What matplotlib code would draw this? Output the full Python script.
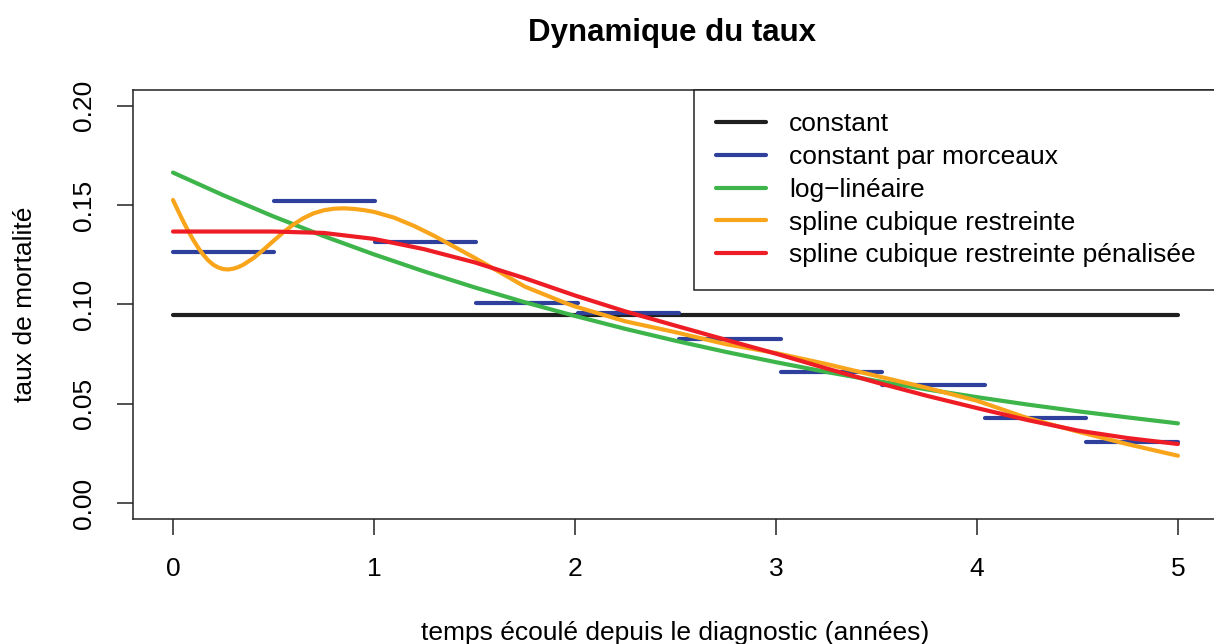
import matplotlib
matplotlib.use("Agg")
import matplotlib.pyplot as plt

plt.rcParams['font.family'] = ['Liberation Sans', 'DejaVu Sans']

# --- DATA ---
constant_rate = 0.0947

piece_breaks = [0, 0.5, 1.005, 1.51, 2.015, 2.52, 3.025, 3.53, 4.04, 4.545, 5.0]
piece_rates = [0.1264, 0.1523, 0.1315, 0.1009, 0.0956, 0.0826, 0.0661, 0.0594, 0.0427, 0.0306]

t_grid = [0, 0.25, 0.5, 0.75, 1.0, 1.25, 1.5, 1.75, 2.0, 2.25, 2.5,
          2.75, 3.0, 3.25, 3.5, 3.75, 4.0, 4.25, 4.5, 4.75, 5.0]
loglin_rates = [0.1664, 0.1550, 0.1443, 0.1344, 0.1252, 0.1166, 0.1086, 0.1011,
                0.0942, 0.0877, 0.0817, 0.0761, 0.0709, 0.0660, 0.0615, 0.0572,
                0.0533, 0.0496, 0.0462, 0.0431, 0.0401]
pen_rates = [0.1367, 0.1367, 0.1367, 0.1360, 0.1330, 0.1278, 0.1212, 0.1132,
             0.1045, 0.0965, 0.0893, 0.0822, 0.0752, 0.0678, 0.0607, 0.0540,
             0.0478, 0.0418, 0.0365, 0.0327, 0.0297]

t_spline = [0, 0.025, 0.05, 0.075, 0.1, 0.125, 0.15, 0.175, 0.2, 0.225, 0.25,
            0.275, 0.3, 0.325, 0.35, 0.4, 0.45, 0.5, 0.55, 0.6, 0.65, 0.7, 0.75,
            0.8, 0.85, 0.9, 0.95, 1.0, 1.1, 1.2, 1.3, 1.4, 1.5, 1.63, 1.75, 1.95,
            2.0, 2.25, 2.5, 2.75, 3.0, 3.25, 3.5, 3.75, 4.0, 4.25, 4.5, 4.75, 5.0]
spline_rates = [0.1526, 0.1472, 0.1420, 0.1371, 0.1326, 0.1286, 0.1251, 0.1222,
                0.1200, 0.1186, 0.1178, 0.1176, 0.1180, 0.1188, 0.1200, 0.1233,
                0.1275, 0.1320, 0.1364, 0.1403, 0.1435, 0.1459, 0.1474, 0.1482,
                0.1484, 0.1481, 0.1475, 0.1466, 0.1437, 0.1395, 0.1345, 0.1290,
                0.1235, 0.1160, 0.1090, 0.1008, 0.0990, 0.0915, 0.0860, 0.0800,
                0.0755, 0.0700, 0.0640, 0.0580, 0.0515, 0.0428, 0.0360, 0.0296,
                0.0238]

labels = ["constant", "constant par morceaux", "log\u2212linéaire",
          "spline cubique restreinte", "spline cubique restreinte pénalisée"]
colors = ["#1f1f1f", "#2e3f9c", "#3db54a", "#f9a51b", "#ee1d25"]

# --- FIGURE ---
fig = plt.figure(figsize=(12.14, 6.44), dpi=100)
ax = fig.add_axes([0.1094, 0.1943, 0.894, 0.666])
lw = 3.0

ax.plot([0, 5], [constant_rate, constant_rate], color=colors[0], lw=lw,
        solid_capstyle='round', label=labels[0])
for i, r in enumerate(piece_rates):
    ax.plot([piece_breaks[i], piece_breaks[i + 1]], [r, r], color=colors[1], lw=lw,
            solid_capstyle='round', label=labels[1] if i == 0 else None)
ax.plot(t_grid, loglin_rates, color=colors[2], lw=lw, solid_capstyle='round', label=labels[2])
ax.plot(t_spline, spline_rates, color=colors[3], lw=lw, solid_capstyle='round', label=labels[3])
ax.plot(t_grid, pen_rates, color=colors[4], lw=lw, solid_capstyle='round', label=labels[4])

ax.set_xlim(-0.2, 5.2)
ax.set_ylim(-0.008, 0.208)
ax.set_xticks([0, 1, 2, 3, 4, 5])
ax.set_yticks([0.00, 0.05, 0.10, 0.15, 0.20])
ax.set_yticklabels(["0.00", "0.05", "0.10", "0.15", "0.20"], rotation=90, va='center')
ax.tick_params(axis='both', labelsize=19, length=11.5, width=1.1, pad=15, color='#222222')
ax.tick_params(axis='x', pad=16)

for s in ax.spines.values():
    s.set_linewidth(1.1)
    s.set_color('#222222')

ax.set_title("Dynamique du taux", fontsize=22.5, fontweight='bold', pad=35, x=0.497)
ax.set_xlabel("temps écoulé depuis le diagnostic (années)", fontsize=19, labelpad=29)
ax.set_ylabel("taux de mortalité", fontsize=19, labelpad=25)

leg = ax.legend(loc='upper right', bbox_to_anchor=(1.0, 1.0), borderaxespad=0,
                fontsize=19, fancybox=False, edgecolor='#222222', framealpha=1,
                handlelength=1.9, handletextpad=0.87, borderpad=0.85,
                labelspacing=0.33)
leg.get_frame().set_linewidth(1.1)
for h in leg.get_lines():
    h.set_linewidth(3.0)

fig.savefig("out.png", dpi=100)
